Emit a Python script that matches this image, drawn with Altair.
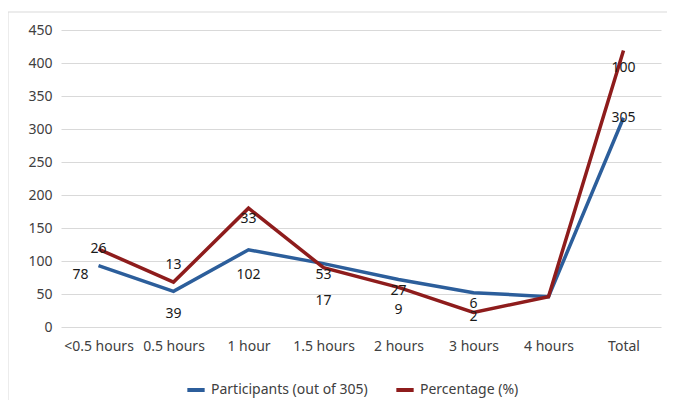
import altair as alt
import pandas as pd

categories = ["<0.5 hours", "0.5 hours", "1 hour", "1.5 hours", "2 hours", "3 hours", "4 hours", "Total"]
series_names = ["Participants (out of 305)", "Percentage (%)"]
y_ticks = [0, 50, 100, 150, 200, 250, 300, 350, 400, 450]

# line heights as drawn in the picture
participants_line = [93, 54, 117, 96, 72, 52, 46, 317]
percentage_line = [118, 68, 180, 90, 60, 22, 46, 419]

# data labels (value text) and the height at which each label sits
participants_labels = ["78", "39", "102", "53", "27", "6", "", "305"]
participants_label_at = [79, 19, 79, 79, 54, 35, 0, 317]
percentage_labels = ["26", "13", "33", "17", "9", "2", "", "100"]
percentage_label_at = [118, 94, 163, 40, 26, 15, 0, 393]

colors = ["#2C5E9B", "#8E1C1C"]
FONT = "Noto Sans"
FS = 14

rows = []
for c, p, q in zip(categories, participants_line, percentage_line):
    rows.append({"cat": c, "series": series_names[0], "v": p})
    rows.append({"cat": c, "series": series_names[1], "v": q})
lines_df = pd.DataFrame(rows)

lab_rows = []
for i, c in enumerate(categories):
    if participants_labels[i]:
        lab_rows.append({"cat": c, "t": participants_labels[i], "y": participants_label_at[i], "first": i == 0})
    if percentage_labels[i]:
        lab_rows.append({"cat": c, "t": percentage_labels[i], "y": percentage_label_at[i], "first": False})
lab_df = pd.DataFrame(lab_rows)

x_scale = alt.Scale(domain=categories, paddingInner=0, paddingOuter=0)
y_scale = alt.Scale(domain=[0, 450], nice=False)
x_axis = alt.Axis(title=None, labelAngle=0, ticks=False, domain=False, grid=False,
                  labelPadding=12, labelFontSize=FS, labelFont=FONT, labelColor="#404040")
y_axis = alt.Axis(title=None, values=y_ticks, ticks=False, domain=False,
                  labelOverlap=False, labelBound=False,
                  gridColor="#d9d9d9", gridWidth=1.2, labelPadding=9, labelFontSize=FS,
                  labelFont=FONT, labelColor="#404040")

lines = alt.Chart(lines_df).mark_line(strokeWidth=3.5, strokeJoin="miter").encode(
    x=alt.X("cat:N", sort=categories, scale=x_scale, axis=x_axis),
    y=alt.Y("v:Q", scale=y_scale, axis=y_axis),
    color=alt.Color("series:N", sort=series_names,
                    scale=alt.Scale(domain=series_names, range=colors),
                    legend=alt.Legend(title=None, orient="none", legendX=124, legendY=349,
                                      direction="horizontal", labelLimit=400,
                                      symbolType="stroke", symbolStrokeWidth=4, symbolSize=300,
                                      labelFontSize=FS, labelFont=FONT, labelColor="#404040",
                                      columnPadding=20)),
)

labels_c = alt.Chart(lab_df).transform_filter("!datum.first").mark_text(
    fontSize=FS, font=FONT, color="#1a1a1a", baseline="middle").encode(
    x=alt.X("cat:N", sort=categories, scale=x_scale, axis=x_axis),
    y=alt.Y("y:Q", scale=y_scale, axis=y_axis), text="t:N")

labels_l = alt.Chart(lab_df).transform_filter("datum.first").mark_text(
    fontSize=FS, font=FONT, color="#1a1a1a", baseline="middle", dx=-18).encode(
    x=alt.X("cat:N", sort=categories, scale=x_scale, axis=x_axis),
    y=alt.Y("y:Q", scale=y_scale, axis=y_axis), text="t:N")

frame = alt.Chart(pd.DataFrame({"a": [0]})).mark_rect(fill=None, stroke="#d9d9d9", strokeWidth=1).encode(
    x=alt.value(-53), x2=alt.value(640), y=alt.value(-18), y2=alt.value(420))

chart = alt.layer(lines, labels_c, labels_l, frame).properties(
    width=600, height=297,
    padding={"left": 53, "top": 22, "right": 6, "bottom": 73},
    autosize=alt.AutoSizeParams(type="none"),
    background="white",
).configure_view(stroke=None)

chart.save("out.html", embed_options={"renderer": "svg", "actions": False})
